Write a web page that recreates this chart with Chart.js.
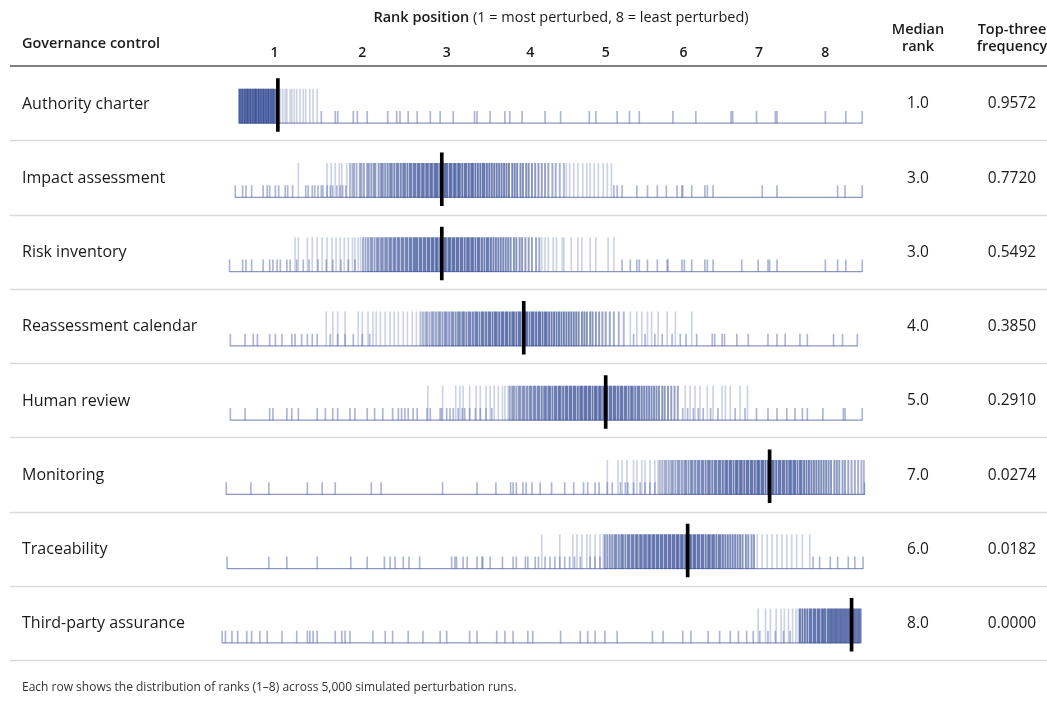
<!DOCTYPE html>
<html><head><meta charset="utf-8">
<script src="https://cdn.jsdelivr.net/npm/chart.js@4.4.1/dist/chart.umd.min.js"></script>
<style>html,body{margin:0;padding:0;background:#fff;}#wrap{width:1047px;height:702px;position:relative;}</style>
</head><body><div id="wrap"><canvas id="c" width="1047" height="702"></canvas></div>
<script>
// ---------- data ----------
const controls = ['Authority charter','Impact assessment','Risk inventory','Reassessment calendar','Human review','Monitoring','Traceability','Third-party assurance'];
const medianRank = [1.0, 3.0, 3.0, 4.0, 5.0, 7.0, 6.0, 8.0];
const topThreeFreq = [0.9572, 0.7720, 0.5492, 0.3850, 0.2910, 0.0274, 0.0182, 0.0000];
const tickLabels = ['1','2','3','4','5','6','7','8'];
const tickPos = [0.96, 2.03, 3.06, 4.08, 5.00, 5.95, 6.87, 7.68];
const footnote = 'Each row shows the distribution of ranks (1\u20138) across 5,000 simulated perturbation runs.';

// dense (dark, tall) rank draws
const core1 = [0.53,0.54,0.56,0.57,0.59,0.60,0.62,0.63,0.64,0.66,0.67,0.69,0.70,0.72,0.73,0.74,0.76,0.77,0.79,0.80,0.82,0.83,0.85,0.86,0.88,0.89,0.91,0.92,0.94,0.95,0.97,0.99];
const core2 = [1.88,1.91,1.93,1.96,2.00,2.02,2.05,2.09,2.11,2.14,2.17,2.19,2.23,2.26,2.28,2.31,2.34,2.37,2.39,2.42,2.45,2.47,2.50,2.53,2.55,2.58,2.61,2.63,2.66,2.68,2.71,2.73,2.76,2.78,2.81,2.83,2.86,2.88,2.91,2.93,2.95,2.98,3.00,3.03,3.05,3.07,3.10,3.12,3.15,3.17,3.20,3.22,3.25,3.28,3.30,3.33,3.36,3.38,3.41,3.44,3.47,3.50,3.52,3.55,3.58,3.61,3.64,3.67,3.70,3.73,3.76,3.79,3.82,3.86,3.89,3.92,3.96,3.99,4.03,4.06,4.10,4.14,4.18,4.22,4.26,4.30,4.35,4.39,4.44,4.49];
const core3 = [2.04,2.07,2.10,2.13,2.15,2.18,2.21,2.23,2.26,2.28,2.31,2.33,2.36,2.38,2.41,2.43,2.46,2.48,2.51,2.53,2.56,2.58,2.61,2.63,2.66,2.68,2.70,2.73,2.75,2.78,2.80,2.83,2.85,2.88,2.90,2.93,2.95,2.98,3.00,3.03,3.05,3.08,3.10,3.13,3.15,3.18,3.20,3.23,3.25,3.28,3.31,3.33,3.36,3.38,3.41,3.44,3.46,3.49,3.52,3.55,3.57,3.60,3.63,3.66,3.69,3.72,3.75,3.78,3.81,3.84,3.88,3.91,3.95,3.98,4.02,4.06,4.10,4.15,4.19];
const core4 = [2.74,2.77,2.80,2.82,2.85,2.88,2.90,2.93,2.96,2.98,3.01,3.04,3.06,3.09,3.12,3.14,3.17,3.20,3.22,3.25,3.27,3.30,3.33,3.35,3.38,3.41,3.43,3.46,3.49,3.51,3.54,3.57,3.59,3.62,3.65,3.67,3.70,3.73,3.75,3.78,3.80,3.83,3.86,3.88,3.91,3.94,3.96,3.99,4.02,4.04,4.07,4.10,4.12,4.15,4.18,4.20,4.23,4.26,4.28,4.31,4.34,4.37,4.40,4.43,4.46,4.49,4.52,4.55,4.58,4.61,4.64,4.67,4.71,4.74,4.77,4.81,4.84,4.88,4.92,4.96,5.00,5.05,5.10,5.16,5.22];
const core5 = [3.83,3.86,3.88,3.91,3.94,3.96,3.99,4.01,4.04,4.07,4.09,4.12,4.14,4.17,4.19,4.22,4.25,4.27,4.30,4.32,4.35,4.38,4.40,4.43,4.45,4.48,4.51,4.53,4.56,4.58,4.61,4.63,4.66,4.69,4.71,4.74,4.76,4.79,4.81,4.84,4.87,4.89,4.92,4.94,4.97,4.99,5.02,5.05,5.07,5.10,5.12,5.15,5.18,5.20,5.23,5.25,5.28,5.31,5.33,5.36,5.39,5.41,5.44,5.47,5.50,5.53,5.56,5.59,5.62,5.65,5.69,5.72,5.76,5.80,5.84,5.88];
const core6 = [5.66,5.69,5.72,5.74,5.77,5.80,5.82,5.85,5.88,5.90,5.93,5.96,5.98,6.01,6.04,6.06,6.09,6.12,6.14,6.17,6.19,6.22,6.25,6.27,6.30,6.33,6.35,6.38,6.40,6.43,6.46,6.48,6.51,6.53,6.56,6.59,6.61,6.64,6.66,6.69,6.72,6.74,6.77,6.79,6.82,6.85,6.87,6.90,6.92,6.95,6.98,7.00,7.03,7.05,7.08,7.11,7.13,7.16,7.18,7.21,7.24,7.26,7.29,7.31,7.34,7.37,7.39,7.42,7.45,7.48,7.51,7.54,7.57,7.60,7.63,7.66,7.69,7.72,7.75,7.79,7.82,7.85,7.89,7.92,7.96,8.00,8.04,8.08,8.12,8.15];
const core7 = [4.99,5.02,5.05,5.08,5.11,5.13,5.16,5.19,5.21,5.24,5.27,5.29,5.32,5.34,5.37,5.39,5.42,5.44,5.47,5.49,5.52,5.54,5.57,5.59,5.62,5.64,5.67,5.69,5.72,5.74,5.77,5.79,5.82,5.84,5.87,5.89,5.92,5.94,5.97,5.99,6.02,6.04,6.07,6.09,6.12,6.14,6.17,6.19,6.22,6.25,6.27,6.30,6.32,6.35,6.38,6.40,6.43,6.46,6.49,6.52,6.55,6.58,6.61,6.64,6.67,6.71,6.74,6.78,6.81];
const core8 = [7.37,7.40,7.43,7.46,7.49,7.51,7.54,7.56,7.59,7.61,7.64,7.66,7.68,7.71,7.73,7.75,7.77,7.79,7.81,7.83,7.85,7.87,7.89,7.91,7.93,7.95,7.97,7.99,8.01,8.03,8.05,8.07,8.09,8.11];

// scattered (light, tall) rank draws
const halo1 = [1.00,1.03,1.06,1.09,1.11,1.15,1.17,1.20,1.23,1.27,1.31,1.34,1.39,1.43,1.48];
const halo2 = [1.25,1.60,1.65,1.70,1.75,1.78,1.84,4.52,4.56,4.61,4.66,4.72,4.77,4.81,4.86,4.91,4.97,5.02,5.07];
const halo3 = [1.21,1.25,1.36,1.42,1.48,1.54,1.60,1.66,1.71,1.76,1.81,1.86,1.91,1.94,1.98,2.01,4.22,4.26,4.30,4.36,4.40,4.47,4.49,4.58,4.66,4.71,4.81,4.88,5.03,5.10];
const halo4 = [1.59,1.67,1.73,1.82,1.98,2.03,2.10,2.16,2.20,2.25,2.31,2.37,2.42,2.47,2.53,2.58,2.64,2.69,5.30,5.38,5.44,5.51,5.56,5.64,5.75,5.85,6.05];
const halo5 = [2.83,3.01,3.17,3.22,3.26,3.34,3.42,3.47,3.54,3.59,3.64,3.69,3.74,3.77,3.81,5.97,6.03,6.09,6.15,6.24,6.31,6.42,6.46,6.52,6.64,6.73];
const halo6 = [5.02,5.15,5.20,5.26,5.34,5.38,5.44,5.48,5.54,5.60,5.64];
const halo7 = [4.22,4.44,4.60,4.65,4.71,4.77,4.81,4.87,4.93,4.97,6.85,6.91,6.97,7.03,7.09,7.15,7.21,7.27,7.33,7.40,7.49];
const halo8 = [6.86,6.95,7.01,7.08,7.14,7.18,7.23,7.28,7.32,7.35];

// sparse (short) rank draws
const rug1 = [1.53,1.70,1.73,1.92,1.97,2.09,2.34,2.45,2.49,2.59,2.70,2.86,2.98,3.14,3.40,3.43,3.59,3.77,3.83,3.98,4.26,4.45,4.80,4.88,5.14,5.29,5.41,5.82,6.10,6.53,6.55,6.84,7.07,7.09,7.68,7.93,8.13];
const rug2 = [0.48,0.57,0.61,0.68,0.82,0.87,0.90,0.97,1.01,1.09,1.12,1.18,1.34,1.37,1.42,1.45,1.49,1.53,1.55,1.60,1.64,1.67,1.72,1.76,1.79,1.83,5.10,5.14,5.20,5.38,5.51,5.63,5.74,5.87,5.93,5.94,6.05,6.21,6.24,6.31,6.91,7.09,7.83,7.92,8.13];
const rug3 = [0.41,0.57,0.61,0.68,0.82,0.90,0.94,0.99,1.03,1.11,1.15,1.23,1.31,1.38,1.49,1.59,1.67,1.77,1.86,1.94,5.20,5.30,5.38,5.41,5.51,5.63,5.75,5.76,5.93,5.96,6.05,6.21,6.24,6.31,6.66,6.86,6.98,7.00,7.09,7.68,7.83,7.93,8.13];
const rug4 = [0.42,0.60,0.70,0.75,0.90,0.97,1.05,1.17,1.21,1.29,1.36,1.42,1.48,1.64,1.73,1.82,1.92,2.03,2.12,5.34,5.48,5.60,5.69,5.81,5.91,5.98,6.11,6.30,6.33,6.42,6.45,6.60,6.74,6.98,7.09,7.19,7.37,7.46,7.78,7.89,8.07];
const rug5 = [0.42,0.60,0.90,0.94,1.11,1.17,1.25,1.48,1.58,1.67,1.73,1.88,1.94,2.09,2.18,2.28,2.40,2.47,2.51,2.55,2.59,2.65,2.70,2.82,2.86,2.98,3.00,3.06,3.10,3.14,3.20,3.25,3.28,3.34,3.41,3.47,3.54,3.61,5.94,6.00,6.07,6.13,6.19,6.28,6.37,6.58,6.70,6.84,6.98,7.09,7.21,7.31,7.40,7.46,7.65,7.90,7.92,8.13];
const rug6 = [0.37,0.67,0.89,1.36,1.54,1.70,2.14,2.26,3.01,3.43,3.66,3.84,3.87,3.91,3.99,4.03,4.10,4.20,4.34,4.50,4.61,4.73,4.78,4.87,4.92,5.02,5.08,5.18,5.24,5.27,5.34,5.42,5.48,5.54,5.60,8.16];
const rug7 = [0.38,0.89,1.11,1.48,1.89,2.09,2.30,2.37,2.43,2.53,2.60,2.73,3.12,3.16,3.18,3.26,3.31,3.43,3.49,3.50,3.59,3.74,3.87,3.91,4.02,4.05,4.14,4.18,4.26,4.32,4.38,4.44,4.50,4.56,4.62,4.69,4.81,4.87,4.93,7.53,7.61,7.74,7.83,7.96,8.04,8.14];
const rug8 = [0.32,0.36,0.44,0.51,0.62,0.68,0.78,0.87,1.05,1.23,1.36,1.39,1.43,1.48,1.70,1.78,1.82,1.88,2.16,2.31,2.40,2.59,2.77,2.98,3.06,3.34,3.43,3.67,3.77,3.87,4.05,4.11,4.45,4.69,4.78,4.87,4.99,5.14,5.57,5.70,5.94,6.04,6.25,6.39,6.52,6.62,6.72,6.80,6.88,6.98,7.07,7.17,7.25];

const coreRows = [core1,core2,core3,core4,core5,core6,core7,core8];
const haloRows = [halo1,halo2,halo3,halo4,halo5,halo6,halo7,halo8];
const rugRows  = [rug1,rug2,rug3,rug4,rug5,rug6,rug7,rug8];

// ---------- layout / style ----------
const TALL_TOP = 0.31, BASE = 0.77, SHORT_TOP = 0.61, MED_TOP = 0.17, MED_BOT = 0.88;
const FONT = '"Open Sans", "Noto Sans", sans-serif';

// darker shading toward the middle of each dense block
function coreColor(row) {
  const arr = coreRows[row];
  const lo = Math.min(...arr), hi = Math.max(...arr);
  const mid = (lo + hi) / 2, half = Math.max((hi - lo) / 2, 1.2);
  return (c) => {
    const v = c.raw ? c.raw.x : mid;
    const d = Math.min(1, Math.abs(v - mid) / half);
    const a = 0.78 - 0.38 * d * d;
    return 'rgba(55,78,150,' + a.toFixed(3) + ')';
  };
}

const datasets = [];
controls.forEach((name, i) => {
  const all = coreRows[i].concat(haloRows[i], rugRows[i]);
  const lo = Math.min(...all), hi = Math.max(...all);
  datasets.push({ type:'line', data:[{x:lo,y:i+BASE},{x:hi,y:i+BASE}], borderColor:'rgba(130,140,185,0.9)', borderWidth:1.2, pointRadius:0, order:5 });
  datasets.push({ type:'bar', data: rugRows[i].map(v => ({x:v, y:[i+SHORT_TOP, i+BASE]})), backgroundColor:'rgba(105,120,180,0.55)', barThickness:1, grouped:false, order:4 });
  datasets.push({ type:'bar', data: haloRows[i].map(v => ({x:v, y:[i+TALL_TOP, i+BASE]})), backgroundColor:'rgba(95,115,180,0.32)', barThickness:1, grouped:false, order:3 });
  datasets.push({ type:'bar', data: coreRows[i].map(v => ({x:v, y:[i+TALL_TOP, i+BASE]})), backgroundColor: coreColor(i), barThickness:1.3, grouped:false, order:2 });
  datasets.push({ type:'bar', data: [{x:medianRank[i], y:[i+MED_TOP, i+MED_BOT]}], backgroundColor:'#000', barThickness:3, grouped:false, order:1 });
});

const tablePlugin = {
  id:'table',
  beforeDraw(chart){
    const ctx = chart.ctx;
    ctx.save(); ctx.fillStyle='#fff'; ctx.fillRect(0,0,chart.width,chart.height); ctx.restore();
  },
  beforeDatasetsDraw(chart){
    const ctx = chart.ctx, ys = chart.scales.y;
    ctx.save();
    ctx.strokeStyle = '#dadada'; ctx.lineWidth = 1.5;
    for (let i = 1; i <= controls.length; i++) {
      const y = Math.round(ys.getPixelForValue(i)) + 0.5;
      ctx.beginPath(); ctx.moveTo(10, y); ctx.lineTo(chart.width, y); ctx.stroke();
    }
    ctx.strokeStyle = '#555'; ctx.lineWidth = 1.5;
    const y0 = ys.getPixelForValue(0);
    ctx.beginPath(); ctx.moveTo(10, y0); ctx.lineTo(chart.width, y0); ctx.stroke();
    ctx.restore();
  },
  afterDraw(chart){
    const ctx = chart.ctx, xs = chart.scales.x, ys = chart.scales.y;
    ctx.save();
    ctx.fillStyle = '#1a1a1a';
    ctx.textBaseline = 'middle';
    const b = 'Rank position', r = ' (1 = most perturbed, 8 = least perturbed)';
    ctx.font = '600 14.5px ' + FONT; const wb = ctx.measureText(b).width;
    ctx.font = '14.5px ' + FONT; const wr = ctx.measureText(r).width;
    const sx = 561 - (wb + wr) / 2;
    ctx.textAlign = 'left';
    ctx.font = '600 14.5px ' + FONT; ctx.fillText(b, sx, 18);
    ctx.font = '14.5px ' + FONT; ctx.fillText(r, sx + wb, 18);
    ctx.font = '600 14.5px ' + FONT;
    ctx.fillText('Governance control', 22, 44);
    ctx.textAlign = 'center';
    ctx.fillText('Median', 918, 30); ctx.fillText('rank', 918, 47);
    ctx.fillText('Top-three', 1012, 30); ctx.fillText('frequency', 1012, 47);
    ctx.font = '600 14px ' + FONT;
    tickLabels.forEach((t, k) => ctx.fillText(t, xs.getPixelForValue(tickPos[k]), 53));
    controls.forEach((name, i) => {
      const yc = ys.getPixelForValue(i) + 38;
      ctx.font = '16px ' + FONT; ctx.textAlign = 'left';
      ctx.fillText(name, 22, yc);
      ctx.font = '15.5px ' + FONT; ctx.textAlign = 'center';
      ctx.fillText(medianRank[i].toFixed(1), 918, yc);
      ctx.fillText(topThreeFreq[i].toFixed(4), 1012, yc);
    });
    ctx.font = '12px ' + FONT; ctx.textAlign = 'left'; ctx.fillStyle = '#333';
    ctx.fillText(footnote, 22, 688);
    ctx.restore();
  }
};

new Chart(document.getElementById('c'), {
  type:'bar',
  data:{ datasets },
  options:{
    responsive:false, animation:false, events:[],
    layout:{ padding:{ left:220.5, right:181.5, top:66, bottom:42 } },
    plugins:{ legend:{display:false}, tooltip:{enabled:false} },
    scales:{
      x:{ type:'linear', min:0.30, max:8.17, display:false, offset:false },
      y:{ type:'linear', min:0, max:8, reverse:true, display:false }
    }
  },
  plugins:[tablePlugin]
});
</script></body></html>
